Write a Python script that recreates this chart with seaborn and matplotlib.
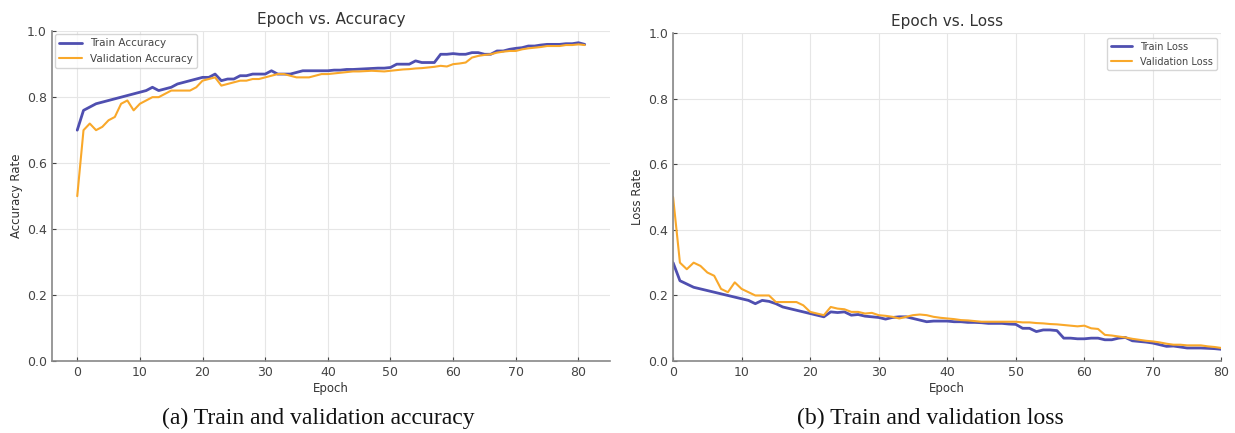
import numpy as np
import pandas as pd
import matplotlib
matplotlib.use("Agg")
import matplotlib.pyplot as plt
import seaborn as sns

train_acc = [0.70, 0.76, 0.77, 0.78, 0.785, 0.79, 0.795, 0.80, 0.805, 0.81,
             0.815, 0.82, 0.83, 0.82, 0.825, 0.83, 0.84, 0.845, 0.85, 0.855,
             0.86, 0.86, 0.87, 0.85, 0.855, 0.855, 0.865, 0.865, 0.87, 0.87,
             0.87, 0.88, 0.87, 0.87, 0.87, 0.875, 0.88, 0.88, 0.88, 0.88,
             0.88, 0.882, 0.882, 0.884, 0.884, 0.885, 0.886, 0.887, 0.888, 0.888,
             0.89, 0.90, 0.90, 0.90, 0.91, 0.905, 0.905, 0.905, 0.93, 0.93,
             0.932, 0.93, 0.93, 0.935, 0.935, 0.93, 0.93, 0.94, 0.94, 0.945,
             0.948, 0.95, 0.955, 0.955, 0.958, 0.96, 0.96, 0.96, 0.962, 0.962,
             0.965, 0.96]
val_acc = [0.50, 0.70, 0.72, 0.70, 0.71, 0.73, 0.74, 0.78, 0.79, 0.76,
           0.78, 0.79, 0.80, 0.80, 0.81, 0.82, 0.82, 0.82, 0.82, 0.83,
           0.85, 0.855, 0.86, 0.835, 0.84, 0.845, 0.85, 0.85, 0.855, 0.855,
           0.86, 0.865, 0.87, 0.87, 0.865, 0.86, 0.86, 0.86, 0.865, 0.87,
           0.87, 0.872, 0.874, 0.876, 0.878, 0.878, 0.879, 0.88, 0.879, 0.878,
           0.88, 0.882, 0.884, 0.885, 0.887, 0.888, 0.89, 0.892, 0.895, 0.893,
           0.90, 0.902, 0.905, 0.92, 0.925, 0.928, 0.93, 0.935, 0.938, 0.94,
           0.94, 0.945, 0.948, 0.95, 0.952, 0.955, 0.955, 0.955, 0.958, 0.958,
           0.96, 0.958]
train_loss = [0.30, 0.245, 0.235, 0.225, 0.22, 0.215, 0.21, 0.205, 0.20, 0.195,
              0.19, 0.185, 0.175, 0.185, 0.182, 0.175, 0.165, 0.16, 0.155, 0.15,
              0.145, 0.14, 0.135, 0.15, 0.148, 0.15, 0.14, 0.142, 0.137, 0.135,
              0.133, 0.128, 0.133, 0.135, 0.135, 0.13, 0.125, 0.12, 0.122, 0.122,
              0.122, 0.12, 0.12, 0.118, 0.118, 0.117, 0.115, 0.115, 0.115, 0.113,
              0.112, 0.10, 0.10, 0.09, 0.095, 0.095, 0.093, 0.07, 0.07, 0.068,
              0.068, 0.07, 0.07, 0.065, 0.065, 0.07, 0.072, 0.062, 0.06, 0.058,
              0.055, 0.05, 0.045, 0.046, 0.043, 0.04, 0.04, 0.04, 0.039, 0.038,
              0.036]
val_loss = [0.50, 0.30, 0.28, 0.30, 0.29, 0.27, 0.26, 0.22, 0.21, 0.24,
            0.22, 0.21, 0.20, 0.20, 0.20, 0.18, 0.18, 0.18, 0.18, 0.17,
            0.15, 0.145, 0.14, 0.165, 0.16, 0.158, 0.15, 0.15, 0.145, 0.147,
            0.14, 0.138, 0.135, 0.13, 0.135, 0.14, 0.142, 0.14, 0.135, 0.132,
            0.13, 0.128, 0.125, 0.124, 0.122, 0.12, 0.12, 0.12, 0.12, 0.12,
            0.12, 0.118, 0.118, 0.116, 0.115, 0.113, 0.112, 0.11, 0.108, 0.106,
            0.108, 0.10, 0.098, 0.08, 0.078, 0.075, 0.072, 0.068, 0.065, 0.062,
            0.06, 0.057, 0.053, 0.05, 0.05, 0.048, 0.048, 0.048, 0.045, 0.043,
            0.04]

acc_epochs = list(range(len(train_acc)))
loss_epochs = list(range(len(train_loss)))

BLUE = "#4f4fb0"
ORANGE = "#f9a82a"

sns.set_style("whitegrid", {"grid.color": "#e6e6e6", "axes.edgecolor": "#888888"})
plt.rcParams['font.family'] = ['DejaVu Sans']

fig = plt.figure(figsize=(12.35, 4.33), dpi=100)
ax1 = fig.add_axes([0.042, 0.166, 0.452, 0.762])
ax2 = fig.add_axes([0.545, 0.166, 0.444, 0.758])

sns.lineplot(x=acc_epochs, y=train_acc, ax=ax1, color=BLUE, linewidth=2.0, label="Train Accuracy")
sns.lineplot(x=acc_epochs, y=val_acc, ax=ax1, color=ORANGE, linewidth=1.5, label="Validation Accuracy")
ax1.set_ylim(0, 1.0)
ax1.set_xticks(range(0, 81, 10))
ax1.set_title("Epoch vs. Accuracy", fontsize=11, color="#333333", pad=5)
ax1.set_xlabel("Epoch", fontsize=8.5, color="#333333", labelpad=2)
ax1.set_ylabel("Accuracy Rate", fontsize=8.5, color="#333333", labelpad=3)
ax1.legend(loc="upper left", fontsize=7.5, frameon=True, borderaxespad=0.3,
           handlelength=2.2, labelcolor="#444444")

sns.lineplot(x=loss_epochs, y=train_loss, ax=ax2, color=BLUE, linewidth=2.0, label="Train Loss")
sns.lineplot(x=loss_epochs, y=val_loss, ax=ax2, color=ORANGE, linewidth=1.5, label="Validation Loss")
ax2.set_ylim(0, 1.0)
ax2.set_xlim(0, 80)
ax2.set_xticks(range(0, 81, 10))
ax2.set_title("Epoch vs. Loss", fontsize=11, color="#333333", pad=5)
ax2.set_xlabel("Epoch", fontsize=8.5, color="#333333", labelpad=2)
ax2.set_ylabel("Loss Rate", fontsize=8.5, color="#333333", labelpad=3)
ax2.legend(loc="upper right", fontsize=7, frameon=True, borderaxespad=0.5,
           handlelength=2.2, labelcolor="#444444")

for ax in (ax1, ax2):
    for s in ("top", "right"):
        ax.spines[s].set_visible(False)
    for s in ("left", "bottom"):
        ax.spines[s].set_color("#888888")
        ax.spines[s].set_linewidth(1.2)
    ax.tick_params(axis="both", labelsize=9, colors="#444444", length=3,
                   direction="in", left=True, bottom=True)
    ax.set_yticks([0.0, 0.2, 0.4, 0.6, 0.8, 1.0])

fig.text(0.258, 0.02, "(a) Train and validation accuracy", ha="center",
         fontsize=17, family="Liberation Serif", color="#111111")
fig.text(0.753, 0.02, "(b) Train and validation loss", ha="center",
         fontsize=17, family="Liberation Serif", color="#111111")

fig.savefig("out.png", dpi=100)
